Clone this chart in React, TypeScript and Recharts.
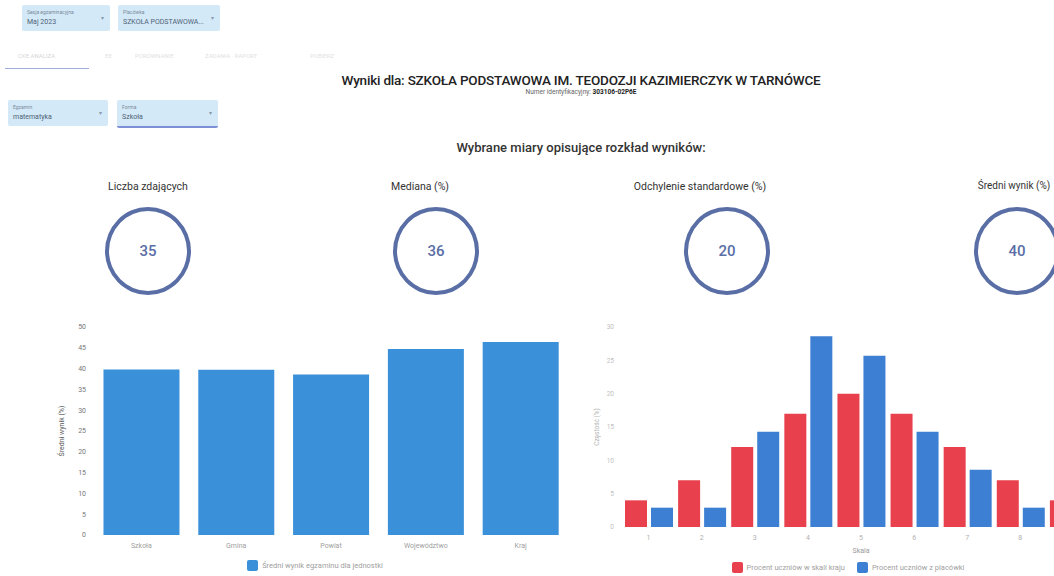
import React from "react";
import { Bar, BarChart, Legend, XAxis, YAxis } from "recharts";

// Średni wynik (%) per unit level
const levels = ["Szkoła", "Gmina", "Powiat", "Województwo", "Kraj"];
const meanScores = [39.8, 39.7, 38.6, 44.7, 46.4];
const meanTicks = [0, 5, 10, 15, 20, 25, 30, 35, 40, 45, 50];

// stanine distribution (%)
const stanines = ["1", "2", "3", "4", "5", "6", "7", "8", "9"];
const countryPct = [4, 7, 12, 17, 20, 17, 12, 7, 4];
const schoolPct = [2.9, 2.9, 14.3, 28.6, 25.7, 14.3, 8.6, 2.9, 0];
const freqTicks = [0, 5, 10, 15, 20, 25, 30];

// KPI circles
const kpiLabels = ["Liczba zdających", "Mediana (%)", "Odchylenie standardowe (%)", "Średni wynik (%)"];
const kpiValues = [35, 36, 20, 40];

const BLUE = "#3a90d9";
const RED = "#e8404d";
const BLUE2 = "#3c7fd3";
const RING = "#5a6ea6";

const meanRows = levels.map((name, i) => ({ name, value: meanScores[i] }));
const stanineRows = stanines.map((name, i) => ({ name, kraj: countryPct[i], szkola: schoolPct[i] }));

const kpiLabelX = [148, 420, 700, 1014];
const kpiCircleX = [148, 436, 727, 1017];

function Select({ x, y, w, label, value, underline }: { x: number; y: number; w: number; label: string; value: string; underline?: boolean }) {
  return (
    <div style={{ position: "absolute", left: x, top: y, width: w, height: 26, background: "#d3e9f8", borderRadius: 2, borderBottom: underline ? "2px solid #7d8fd6" : "none" }}>
      <div style={{ position: "absolute", left: 5, top: 4, fontSize: 5, color: "#7a8a99" }}>{label}</div>
      <div style={{ position: "absolute", left: 5, top: 13, fontSize: 7, color: "#4f6275" }}>{value}</div>
      <div style={{ position: "absolute", right: 6, top: 9, fontSize: 6, color: "#8899aa" }}>▾</div>
    </div>
  );
}

function LegendBox({ items }: { items: { color: string; text: string }[] }) {
  return (
    <div style={{ height: 20, display: "flex", justifyContent: "center", alignItems: "center", gap: 12 }}>
      {items.map((it) => (
        <div key={it.text} style={{ display: "flex", alignItems: "center", gap: 4 }}>
          <div style={{ width: 11, height: 11, background: it.color, borderRadius: 2 }} />
          <span style={{ fontSize: 7.5, color: "#a0a0a0" }}>{it.text}</span>
        </div>
      ))}
    </div>
  );
}

export default function App() {
  return (
    <div style={{ position: "fixed", left: 0, top: 0, width: 1054, height: 576, overflow: "hidden", background: "#fff", fontFamily: "Roboto, 'Noto Sans', sans-serif" }}>
      <Select x={22} y={5} w={88} label="Sesja egzaminacyjna" value="Maj 2023" />
      <Select x={118} y={5} w={102} label="Placówka" value="SZKOŁA PODSTAWOWA..." />

      {/* tabs */}
      <div style={{ position: "absolute", left: 18, top: 52, fontSize: 6, color: "#d6d6d6" }}>CKE ANALIZA</div>
      <div style={{ position: "absolute", left: 105, top: 52, fontSize: 6, color: "#e2e2e2" }}>EE</div>
      <div style={{ position: "absolute", left: 135, top: 52, fontSize: 6, color: "#e2e2e2" }}>PORÓWNANIE</div>
      <div style={{ position: "absolute", left: 205, top: 52, fontSize: 6, color: "#e2e2e2" }}>ZADANIA · RAPORT</div>
      <div style={{ position: "absolute", left: 310, top: 52, fontSize: 6, color: "#e2e2e2" }}>POBIERZ</div>
      <div style={{ position: "absolute", left: 5, top: 68, width: 84, height: 1, background: "#a3acdf" }} />

      <Select x={8} y={100} w={100} label="Egzamin" value="matematyka" />
      <Select x={117} y={100} w={101} label="Forma" value="Szkoła" underline />

      <div style={{ position: "absolute", left: 0, width: 1162, top: 72, textAlign: "center", fontSize: 13.5, fontWeight: 500, color: "#222", letterSpacing: -0.2 }}>
        Wyniki dla: SZKOŁA PODSTAWOWA IM. TEODOZJI KAZIMIERCZYK W TARNÓWCE
      </div>
      <div style={{ position: "absolute", left: 0, width: 1162, top: 88, textAlign: "center", fontSize: 6.5, color: "#666" }}>
        Numer identyfikacyjny: <b style={{ color: "#222" }}>303106-02P6E</b>
      </div>
      <div style={{ position: "absolute", left: 0, width: 1162, top: 140, textAlign: "center", fontSize: 13, fontWeight: 500, color: "#333" }}>
        Wybrane miary opisujące rozkład wyników:
      </div>

      {kpiLabels.map((l, i) => (
        <div key={l} style={{ position: "absolute", left: kpiLabelX[i] - 100, width: 200, top: 180, textAlign: "center", fontSize: i === 3 ? 10 : 10.5, color: "#333" }}>{l}</div>
      ))}
      {kpiValues.map((v, i) => (
        <div key={i} style={{ position: "absolute", left: kpiCircleX[i] - 43, top: 207, width: 78, height: 80, border: `4px solid ${RING}`, borderRadius: "50%", display: "flex", alignItems: "center", justifyContent: "center", fontSize: 15, fontWeight: 500, color: RING }}>
          {v}
        </div>
      ))}

      <div style={{ position: "absolute", left: 50, top: 315 }}>
        <BarChart width={536} height={260} data={meanRows} margin={{ top: 12, right: 18, left: 0, bottom: 0 }} barCategoryGap="10%">
          <XAxis dataKey="name" tick={{ fontSize: 7, fill: "#a0a0a0" }} tickLine={false} axisLine={false} height={20} />
          <YAxis domain={[0, 50]} ticks={meanTicks} tick={{ fontSize: 7, fill: "#777" }} tickLine={false} axisLine={false} width={44}
            label={{ value: "Średni wynik (%)", angle: -90, position: "insideLeft", offset: 12, style: { fontSize: 7, fill: "#555", textAnchor: "middle" } }} />
          <Legend verticalAlign="bottom" content={() => (
            <div style={{ width: 530 }}>
              <LegendBox items={[{ color: BLUE, text: "Średni wynik egzaminu dla jednostki" }]} />
            </div>
          )} />
          <Bar dataKey="value" fill={BLUE} isAnimationActive={false} />
        </BarChart>
      </div>

      <div style={{ position: "absolute", left: 575, top: 315 }}>
        <BarChart width={535} height={262} data={stanineRows} margin={{ top: 12, right: 10, left: 0, bottom: 0 }} barCategoryGap={3} barGap={4}>
          <XAxis dataKey="name" tick={{ fontSize: 7, fill: "#b0b0b0" }} tickLine={false} axisLine={false} height={30}
            label={{ value: "Skala", position: "insideBottom", offset: 4, style: { fontSize: 7, fill: "#9a9a9a" } }} />
          <YAxis domain={[0, 30]} ticks={freqTicks} tick={{ fontSize: 6.5, fill: "#c0c0c0" }} tickLine={false} axisLine={false} width={47}
            label={{ value: "Częstość (%)", angle: -90, position: "insideLeft", offset: 22, style: { fontSize: 6.5, fill: "#b5b5b5", textAnchor: "middle" } }} />
          <Legend verticalAlign="bottom" content={() => (
            <div style={{ width: 546 }}>
              <LegendBox items={[{ color: RED, text: "Procent uczniów w skali kraju" }, { color: BLUE2, text: "Procent uczniów z placówki" }]} />
            </div>
          )} />
          <Bar dataKey="kraj" fill={RED} isAnimationActive={false} />
          <Bar dataKey="szkola" fill={BLUE2} isAnimationActive={false} />
        </BarChart>
      </div>
    </div>
  );
}
